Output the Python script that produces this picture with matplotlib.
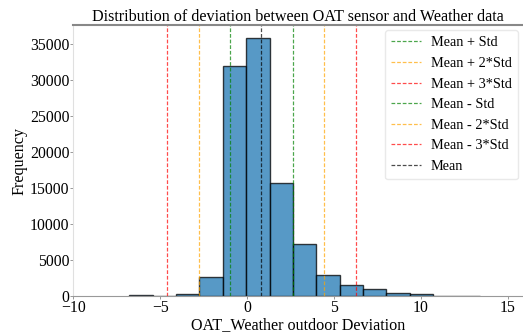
import numpy as np
import matplotlib
matplotlib.use("Agg")
import matplotlib.pyplot as plt

plt.rcParams['font.family'] = ['Liberation Serif', 'DejaVu Serif']

# Histogram of deviations (bin edges and counts)
bin_start = -6.78
bin_width = 1.345
counts = [180, 20, 330, 2700, 32000, 35900, 15650, 7300, 2980, 1590, 930, 470, 250, 70, 40]
mean_dev = 0.82
std_dev = 1.81

edges = bin_start + bin_width * np.arange(len(counts) + 1)
lefts = edges[:-1]

fig = plt.figure(figsize=(5.23, 3.33), dpi=100)
ax = fig.add_axes([0.1405, 0.111, 0.8595, 0.814])

ax.hist(lefts, bins=edges, weights=counts, color='#1f77b4', alpha=0.75,
        edgecolor='black', linewidth=1.0)

lines = [
    (mean_dev + std_dev, 'green', 'Mean + Std'),
    (mean_dev + 2 * std_dev, 'orange', 'Mean + 2*Std'),
    (mean_dev + 3 * std_dev, 'red', 'Mean + 3*Std'),
    (mean_dev - std_dev, 'green', 'Mean - Std'),
    (mean_dev - 2 * std_dev, 'orange', 'Mean - 2*Std'),
    (mean_dev - 3 * std_dev, 'red', 'Mean - 3*Std'),
    (mean_dev, 'black', 'Mean'),
]
for x, c, lab in lines:
    ax.axvline(x, color=c, linestyle=(0, (3, 1.5)), linewidth=0.9, alpha=0.7, label=lab)

ax.set_xlim(-10, 15.88)
ax.set_ylim(0, max(counts) * 1.05)
ax.set_xticks([-10, -5, 0, 5, 10, 15])
ax.set_yticks([0, 5000, 10000, 15000, 20000, 25000, 30000, 35000])

ax.set_title('Distribution of deviation between OAT sensor and Weather data', fontsize=11.6, pad=3)
ax.set_xlabel('OAT_Weather outdoor Deviation', fontsize=11.6, labelpad=1)
ax.set_ylabel('Frequency', fontsize=11.6, labelpad=2)
ax.tick_params(labelsize=11.3, length=2, width=0.6, color='#888888', pad=1)

ax.spines['top'].set_color('#888888')
ax.spines['top'].set_linewidth(1.5)
ax.spines['bottom'].set_color('#999999')
ax.spines['left'].set_color('#e0e0e0')
ax.spines['right'].set_visible(False)

leg = ax.legend(loc='upper right', fontsize=10.3, frameon=True, handlelength=2.1,
                handletextpad=0.65, borderaxespad=0.35, labelspacing=0.53,
                borderpad=0.45)
leg.get_frame().set_edgecolor('#e4e4e4')

fig.savefig('out.png', dpi=100)
